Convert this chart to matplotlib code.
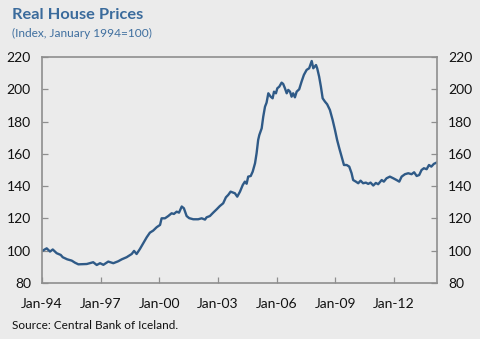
import matplotlib
matplotlib.use("Agg")
import matplotlib.pyplot as plt

# Real house price index (x in fractional years)
years = [
    1994.04, 1994.24, 1994.41, 1994.55, 1994.75, 1994.96, 1995.06, 1995.29,
    1995.52, 1995.69, 1995.86, 1996.29, 1996.62, 1996.80, 1996.97, 1997.14,
    1997.39, 1997.65, 1997.90, 1998.08, 1998.33, 1998.59, 1998.71, 1998.84,
    1999.01, 1999.18, 1999.36, 1999.52, 1999.69, 1999.87, 2000.04, 2000.12,
    2000.29, 2000.46, 2000.63, 2000.75, 2000.89, 2001.01, 2001.15, 2001.26,
    2001.40, 2001.53, 2001.74, 2001.99, 2002.17, 2002.34, 2002.42, 2002.59,
    2002.76, 2002.94, 2003.10, 2003.27, 2003.41, 2003.53, 2003.65, 2003.79,
    2003.87, 2003.99, 2004.13, 2004.27, 2004.38, 2004.47, 2004.55, 2004.68,
    2004.78, 2004.90, 2004.98, 2005.06, 2005.12, 2005.24, 2005.32, 2005.41,
    2005.49, 2005.58, 2005.70, 2005.80, 2005.87, 2005.97, 2006.04, 2006.14,
    2006.26, 2006.34, 2006.43, 2006.52, 2006.60, 2006.69, 2006.77, 2006.85,
    2006.94, 2007.03, 2007.16, 2007.28, 2007.40, 2007.54, 2007.67, 2007.80,
    2007.88, 2008.02, 2008.08, 2008.18, 2008.27, 2008.36, 2008.48, 2008.59,
    2008.73, 2008.87, 2008.99, 2009.10, 2009.21, 2009.33, 2009.45, 2009.59,
    2009.72, 2009.84, 2009.92, 2010.06, 2010.18, 2010.30, 2010.43, 2010.57,
    2010.69, 2010.81, 2010.95, 2011.08, 2011.20, 2011.38, 2011.49, 2011.63,
    2011.80, 2011.97, 2012.14, 2012.28, 2012.40, 2012.57, 2012.74, 2012.91,
    2013.04, 2013.17, 2013.30, 2013.42, 2013.54, 2013.68, 2013.80, 2013.92,
    2014.05, 2014.19,
]
index = [
    100.1, 101.5, 99.5, 100.8, 98.5, 97.4, 96.0, 94.7,
    93.9, 92.6, 91.6, 91.8, 92.9, 91.2, 92.3, 91.3,
    93.3, 92.3, 93.5, 94.7, 96.0, 98.0, 99.9, 98.0,
    101.1, 104.7, 108.4, 111.2, 112.5, 114.6, 116.0, 120.1,
    120.1, 121.5, 123.2, 122.8, 124.2, 123.6, 127.4, 126.3,
    121.5, 120.2, 119.5, 119.5, 120.1, 119.3, 120.7, 121.5,
    123.6, 125.7, 127.7, 129.4, 133.1, 134.6, 136.6, 136.0,
    135.6, 133.5, 136.6, 140.7, 142.8, 141.5, 145.9, 146.3,
    149.0, 154.2, 160.4, 168.6, 171.7, 175.8, 183.0, 189.2,
    191.7, 197.5, 195.4, 194.4, 198.5, 197.5, 200.6, 201.6,
    204.1, 203.3, 200.6, 197.5, 199.6, 198.5, 195.4, 197.5,
    195.0, 198.5, 200.0, 204.7, 208.9, 212.0, 213.0, 217.5,
    213.0, 215.0, 213.0, 207.8, 201.6, 194.4, 192.3, 190.7,
    187.2, 181.0, 174.8, 168.6, 163.5, 158.3, 153.1, 153.1,
    152.1, 148.0, 143.8, 142.8, 141.8, 143.4, 141.8, 142.2,
    141.4, 142.2, 140.4, 142.0, 141.2, 143.8, 142.8, 144.9,
    145.9, 144.9, 143.8, 142.8, 145.9, 147.4, 148.0, 147.4,
    148.6, 146.3, 146.9, 150.0, 151.1, 150.5, 153.1, 152.1,
    153.8, 154.6,
]
tick_years = [1994, 1997, 2000, 2003, 2006, 2009, 2012]
tick_labels = ["Jan-94", "Jan-97", "Jan-00", "Jan-03", "Jan-06", "Jan-09", "Jan-12"]
y_ticks = [80, 100, 120, 140, 160, 180, 200, 220]

bg = "#ebebeb"
spine_col = "#8e8e8e"
plt.rcParams["font.family"] = ["Lato", "DejaVu Sans"]

fig = plt.figure(figsize=(4.8, 3.39), dpi=100, facecolor=bg)
ax = fig.add_axes([0.0875, 0.165, 0.8225, 0.667], facecolor=bg)
ax.plot(years, index, color="#2f5a87", lw=1.7)

ax.set_xlim(1994.0, 2014.2)
ax.set_ylim(80, 220)
ax.set_xticks(tick_years)
ax.set_xticklabels(tick_labels)
ax.set_yticks(y_ticks)

for s in ax.spines.values():
    s.set_color(spine_col)
    s.set_linewidth(1.2)

ax.tick_params(axis="both", direction="in", length=4, width=0.9,
               color=spine_col, labelsize=10, labelcolor="#111111")
ax.tick_params(axis="x", pad=11)
ax.tick_params(axis="y", pad=8, right=True, labelright=True)

fig.text(0.025, 0.955, "Real House Prices", fontsize=11.8, fontweight="bold",
         color="#3a6b9c", va="center", ha="left")
fig.text(0.025, 0.902, "(Index, January 1994=100)", fontsize=8.6,
         color="#3f6f9f", va="center", ha="left")
fig.text(0.025, 0.04, "Source: Central Bank of Iceland.", fontsize=8.5,
         color="#111111", va="center", ha="left")

fig.savefig("out.png", dpi=100, facecolor=bg)
